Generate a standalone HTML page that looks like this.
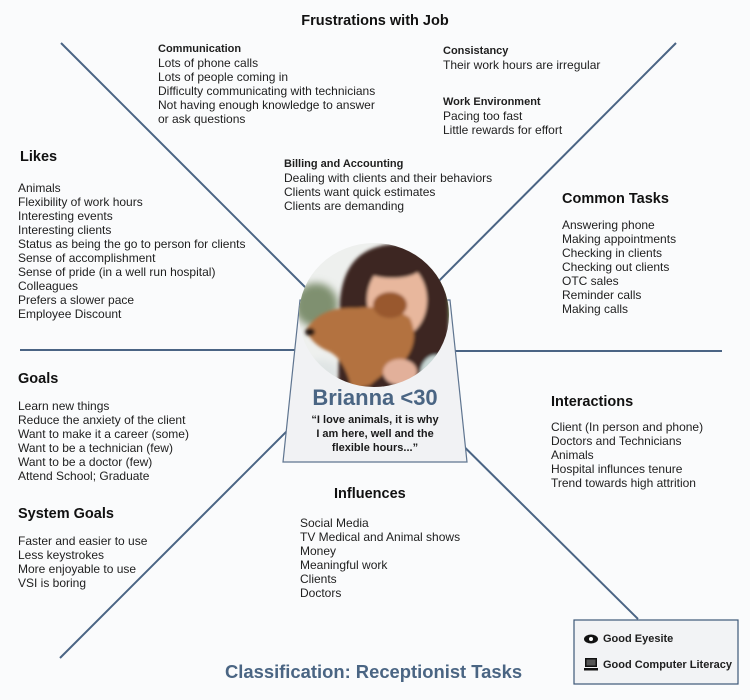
<!DOCTYPE html>
<html><head><meta charset="utf-8"><style>
html,body{margin:0;padding:0}
body{width:750px;height:700px;background:#fafbfc;position:relative;overflow:hidden;font-family:"Liberation Sans",Arial,sans-serif;color:#1e1e1e}
svg{position:absolute;left:0;top:0}
.t{position:absolute;font-size:12px;line-height:14px;white-space:pre}
.h{position:absolute;font-size:14.5px;line-height:18px;font-weight:bold;white-space:pre;color:#111}
.s{font-weight:bold;font-size:11px}
</style></head><body>
<svg width="750" height="700" viewBox="0 0 750 700">
<defs>
<clipPath id="ph"><ellipse cx="374" cy="315" rx="75" ry="72"/></clipPath>
<filter id="bl" x="-20%" y="-20%" width="140%" height="140%"><feGaussianBlur stdDeviation="1.6"/></filter>
<filter id="bl2" x="-20%" y="-20%" width="140%" height="140%"><feGaussianBlur stdDeviation="4"/></filter>
</defs>
<g stroke="#4a6484" stroke-width="2" fill="none">
<line x1="61" y1="43" x2="360" y2="342"/>
<line x1="676" y1="43" x2="390" y2="330"/>
<line x1="20" y1="350" x2="320" y2="350"/>
<line x1="430" y1="351" x2="722" y2="351"/>
<line x1="60" y1="658" x2="330" y2="388"/>
<line x1="420" y1="403" x2="638" y2="619"/>
</g>
<polygon points="300,300 450,300 467,462 283,462" fill="#f1f2f4" stroke="#5f7590" stroke-width="1.2"/>
<g clip-path="url(#ph)">
<rect x="290" y="240" width="170" height="150" fill="#eef0ee"/>
<g filter="url(#bl2)">
<ellipse cx="316" cy="305" rx="22" ry="22" fill="#7f9070"/>
<ellipse cx="445" cy="290" rx="12" ry="34" fill="#6f8a5e"/>
<ellipse cx="320" cy="372" rx="20" ry="12" fill="#dfe4e4"/>
</g>
<g filter="url(#bl)">
<path d="M338,390 L340,300 Q345,246 395,244 Q446,246 448,300 L450,390 Z" fill="#3d2720"/>
<ellipse cx="436" cy="375" rx="16" ry="20" fill="#c9d8d6"/>
<ellipse cx="397" cy="300" rx="30" ry="38" fill="#e8b79d"/>
<ellipse cx="392" cy="268" rx="28" ry="10" fill="#3d2720"/>
<path d="M306,330 Q320,306 356,308 Q390,304 410,318 Q420,340 405,360 Q385,372 370,385 L352,390 Q345,360 330,352 Q312,345 306,330 Z" fill="#b37240"/>
<ellipse cx="390" cy="305" rx="17" ry="13" fill="#99592d"/>
<ellipse cx="400" cy="372" rx="17" ry="13" fill="#e2b09a"/>
<ellipse cx="310" cy="332" rx="5" ry="4" fill="#2a1a14"/>
</g>
</g>
<rect x="574" y="620" width="164" height="64" fill="#f2f3f5" stroke="#3d5878" stroke-width="1.2"/>
<ellipse cx="591" cy="639" rx="7" ry="4.5" fill="#111"/>
<circle cx="591" cy="639" r="2" fill="#fff"/>
<rect x="585" y="658" width="12" height="9" fill="#111"/>
<rect x="586.5" y="659.5" width="9" height="6" fill="#555"/>
<rect x="584" y="668" width="14" height="2.5" fill="#111"/>
</svg>

<div class="h" style="left:0;width:750px;text-align:center;top:12px">Frustrations with Job</div>

<div class="t" style="left:158px;top:41px"><span class="s">Communication</span>
Lots of phone calls
Lots of people coming in
Difficulty communicating with technicians
Not having enough knowledge to answer
or ask questions</div>

<div class="t" style="left:443px;top:43px"><span class="s">Consistancy</span>
Their work hours are irregular</div>

<div class="t" style="left:443px;top:94px"><span class="s">Work Environment</span>
Pacing too fast
Little rewards for effort</div>

<div class="t" style="left:284px;top:156px"><span class="s">Billing and Accounting</span>
Dealing with clients and their behaviors
Clients want quick estimates
Clients are demanding</div>

<div class="h" style="left:20px;top:148px">Likes</div>
<div class="t" style="left:18px;top:181px">Animals
Flexibility of work hours
Interesting events
Interesting clients
Status as being the go to person for clients
Sense of accomplishment
Sense of pride (in a well run hospital)
Colleagues
Prefers a slower pace
Employee Discount</div>

<div class="h" style="left:562px;top:190px">Common Tasks</div>
<div class="t" style="left:562px;top:218px">Answering phone
Making appointments
Checking in clients
Checking out clients
OTC sales
Reminder calls
Making calls</div>

<div class="h" style="left:18px;top:370px">Goals</div>
<div class="t" style="left:18px;top:399px">Learn new things
Reduce the anxiety of the client
Want to make it a career (some)
Want to be a technician (few)
Want to be a doctor (few)
Attend School; Graduate</div>

<div class="h" style="left:18px;top:505px">System Goals</div>
<div class="t" style="left:18px;top:534px">Faster and easier to use
Less keystrokes
More enjoyable to use
VSI is boring</div>

<div class="h" style="left:551px;top:393px">Interactions</div>
<div class="t" style="left:551px;top:420px">Client (In person and phone)
Doctors and Technicians
Animals
Hospital influnces tenure
Trend towards high attrition</div>

<div class="h" style="left:334px;top:485px">Influences</div>
<div class="t" style="left:300px;top:516px">Social Media
TV Medical and Animal shows
Money
Meaningful work
Clients
Doctors</div>

<div style="position:absolute;left:275px;width:200px;top:384px;text-align:center;font-size:22px;line-height:28px;font-weight:bold;color:#4a6583">Brianna &lt;30</div>
<div style="position:absolute;left:285px;width:180px;top:413px;text-align:center;font-size:11px;line-height:14px;font-weight:bold;color:#1a1a1a">“I love animals, it is why<br>I am here, well and the<br>flexible hours...”</div>

<div style="position:absolute;left:225px;top:661px;font-size:18.4px;line-height:22px;font-weight:bold;color:#4a6583;white-space:pre">Classification: Receptionist Tasks</div>

<div class="t s" style="left:603px;top:632px;font-size:11px">Good Eyesite</div>
<div class="t s" style="left:603px;top:658px;font-size:11px">Good Computer Literacy</div>
</body></html>
